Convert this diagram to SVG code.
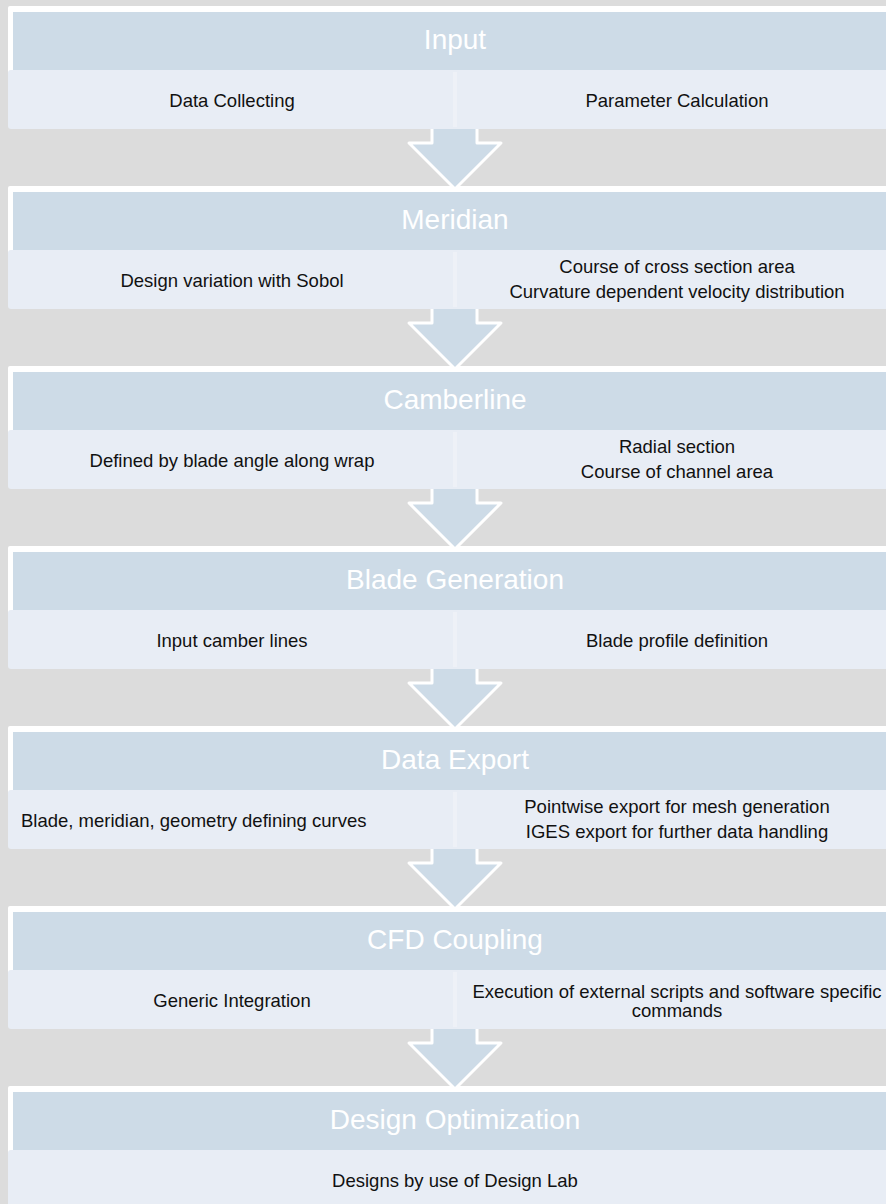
<svg xmlns="http://www.w3.org/2000/svg" width="886" height="1204" viewBox="0 0 886 1204">
<style>
.frame{fill:#ffffff}
.head{fill:#cddbe7}
.low{fill:#e8edf5}
.div{fill:#eef1f7}
.ht{font-family:"Liberation Sans",Arial,sans-serif;font-size:28px;fill:#ffffff;text-anchor:middle}
.lt{font-family:"Liberation Sans",Arial,sans-serif;font-size:18.5px;fill:#111111;text-anchor:middle}
.arrow{fill:#cddbe7;stroke:#ffffff;stroke-width:3;stroke-linejoin:round}
</style>
<defs>
<g id="stage2">
<rect class="frame" x="8" y="6" width="900" height="70" rx="2"/>
<rect class="head" x="13" y="12" width="900" height="58"/>
<rect class="low" x="8" y="70" width="900" height="59" rx="3"/>
<rect class="div" x="453" y="72" width="4" height="55"/>
</g>
</defs>
<rect x="0" y="0" width="886" height="1204" fill="#dcdcdc"/>

<g id="input">
<use href="#stage2"/>
<text class="ht" x="455" y="48.5">Input</text>
<text class="lt" x="232" y="106.5">Data Collecting</text>
<text class="lt" x="677" y="106.5">Parameter Calculation</text>
</g>

<g id="meridian" transform="translate(0,180)">
<use href="#stage2"/>
<text class="ht" x="455" y="48.5">Meridian</text>
<text class="lt" x="232" y="106.5">Design variation with Sobol</text>
<text class="lt" x="677" y="93">Course of cross section area</text>
<text class="lt" x="677" y="118">Curvature dependent velocity distribution</text>
</g>

<g id="camberline" transform="translate(0,360)">
<use href="#stage2"/>
<text class="ht" x="455" y="48.5">Camberline</text>
<text class="lt" x="232" y="106.5">Defined by blade angle along wrap</text>
<text class="lt" x="677" y="93">Radial section</text>
<text class="lt" x="677" y="118">Course of channel area</text>
</g>

<g id="blade-generation" transform="translate(0,540)">
<use href="#stage2"/>
<text class="ht" x="455" y="48.5">Blade Generation</text>
<text class="lt" x="232" y="106.5">Input camber lines</text>
<text class="lt" x="677" y="106.5">Blade profile definition</text>
</g>

<g id="data-export" transform="translate(0,720)">
<use href="#stage2"/>
<text class="ht" x="455" y="48.5">Data Export</text>
<text class="lt" x="21" y="106.5" style="text-anchor:start">Blade, meridian, geometry defining curves</text>
<text class="lt" x="677" y="93">Pointwise export for mesh generation</text>
<text class="lt" x="677" y="118">IGES export for further data handling</text>
</g>

<g id="cfd-coupling" transform="translate(0,900)">
<use href="#stage2"/>
<text class="ht" x="455" y="48.5">CFD Coupling</text>
<text class="lt" x="232" y="106.5">Generic Integration</text>
<text class="lt" x="677" y="97.5">Execution of external scripts and software specific</text>
<text class="lt" x="677" y="117">commands</text>
</g>

<g id="design-optimization" transform="translate(0,1080)">
<rect class="frame" x="8" y="6" width="900" height="70" rx="2"/>
<rect class="head" x="13" y="12" width="900" height="58"/>
<rect class="low" x="8" y="70" width="900" height="59" rx="3"/>
<text class="ht" x="455" y="48.5">Design Optimization</text>
<text class="lt" x="455" y="106.5">Designs by use of Design Lab</text>
</g>

<g id="connectors">
<path class="arrow" d="M432,129 L432,143 L409,143 L455,189 L501,143 L477,143 L477,129"/>
<path class="arrow" transform="translate(0,180)" d="M432,129 L432,143 L409,143 L455,189 L501,143 L477,143 L477,129"/>
<path class="arrow" transform="translate(0,360)" d="M432,129 L432,143 L409,143 L455,189 L501,143 L477,143 L477,129"/>
<path class="arrow" transform="translate(0,540)" d="M432,129 L432,143 L409,143 L455,189 L501,143 L477,143 L477,129"/>
<path class="arrow" transform="translate(0,720)" d="M432,129 L432,143 L409,143 L455,189 L501,143 L477,143 L477,129"/>
<path class="arrow" transform="translate(0,900)" d="M432,129 L432,143 L409,143 L455,189 L501,143 L477,143 L477,129"/>
</g>
</svg>
